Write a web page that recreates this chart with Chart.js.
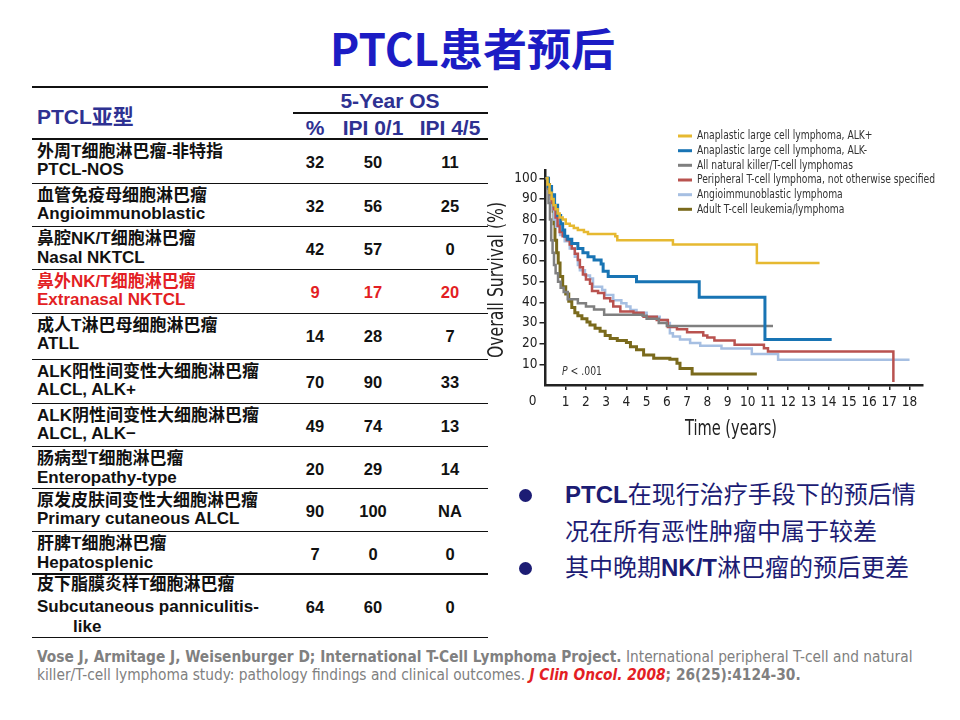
<!DOCTYPE html>
<html><head><meta charset="utf-8">
<script src="https://cdn.jsdelivr.net/npm/chart.js@4.4.1/dist/chart.umd.min.js"></script>
<style>
body{margin:0;width:960px;height:720px;background:#fff;position:relative;overflow:hidden;font-family:'Liberation Sans','Noto Sans CJK SC',sans-serif;}
.a{position:absolute;white-space:nowrap;}
#title{left:0;width:945px;top:20px;text-align:center;font-weight:bold;font-size:44px;font-family:'Noto Sans CJK SC',sans-serif;color:#1c1cc4;line-height:54px;}
.hl{position:absolute;background:#111;height:1.5px;}
.hdr{font-weight:bold;font-size:21px;color:#2e3192;line-height:24px;}
.cell{font-weight:bold;font-size:17px;line-height:20px;color:#111;}
.num{font-weight:bold;font-size:16.5px;line-height:20px;color:#111;text-align:center;width:60px;}
.red{color:#e31e24 !important;}
.bul{font-size:24px;line-height:30px;color:#1c1c74;}
.dot{position:absolute;width:13px;height:13px;border-radius:50%;background:#1c1c74;}
.cite{font-family:'DejaVu Sans Condensed','Liberation Sans Narrow',sans-serif;font-size:15.3px;color:#808080;line-height:18px;}
#chartBox{position:absolute;left:480px;top:120px;width:460px;height:330px;}
</style></head>
<body>
<div id="title" class="a">PTCL患者预后</div>
<div id="table"></div>
<div class="dot" style="left:519px;top:489px"></div>
<div class="a bul" style="left:565px;top:480px"><b>PTCL</b>在现行治疗手段下的预后情</div>
<div class="a bul" style="left:565px;top:517px">况在所有恶性肿瘤中属于较差</div>
<div class="dot" style="left:519px;top:562px"></div>
<div class="a bul" style="left:565px;top:553px">其中晚期<b>NK/T</b>淋巴瘤的预后更差</div>
<div class="a cite" style="left:37px;top:648px"><b>Vose J, Armitage J, Weisenburger D; International T-Cell Lymphoma Project.</b> International peripheral T-cell and natural</div>
<div class="a cite" style="left:37px;top:666px">killer/T-cell lymphoma study: pathology findings and clinical outcomes. <b><i style="color:#e31e24">J Clin Oncol. 2008</i>; 26(25):4124-30.</b></div>
<div id="chartBox"><canvas id="c" width="460" height="330"></canvas></div>
<script>
// ---- table data ----
const subtypeCN = ['外周T细胞淋巴瘤-非特指','血管免疫母细胞淋巴瘤','鼻腔NK/T细胞淋巴瘤','鼻外NK/T细胞淋巴瘤','成人T淋巴母细胞淋巴瘤','ALK阳性间变性大细胞淋巴瘤','ALK阴性间变性大细胞淋巴瘤','肠病型T细胞淋巴瘤','原发皮肤间变性大细胞淋巴瘤','肝脾T细胞淋巴瘤','皮下脂膜炎样T细胞淋巴瘤'];
const subtypeEN = ['PTCL-NOS','Angioimmunoblastic','Nasal NKTCL','Extranasal NKTCL','ATLL','ALCL, ALK+','ALCL, ALK−','Enteropathy-type','Primary cutaneous ALCL','Hepatosplenic','Subcutaneous panniculitis-'];
const os5Pct = ['32','32','42','9','14','70','49','20','90','7','64'];
const ipiLow = ['50','56','57','17','28','90','74','29','100','0','60'];
const ipiHigh = ['11','25','0','20','7','33','13','14','NA','0','0'];
const highlightRow = 3;

// ---- survival curves (years, % surviving) ----
const alkPosTime = [0,0.1,0.2,0.3,0.4,0.5,0.6,0.7,0.85,1.0,1.2,1.4,1.6,1.9,2.1,3.45,3.55,6.3,10.45,13.55];
const alkPosSurv = [100,97,93,90,87,85,83,81,80,78,77,76,75,74,73,72,70,68,59,59];
const alkNegTime = [0,0.15,0.3,0.45,0.6,0.75,0.85,0.95,1.1,1.3,1.6,1.85,2.1,2.4,2.75,2.85,3.1,4.5,7.6,10.85,14.15];
const alkNegSurv = [100,96,92,87,82,78,75,72,70.5,68.5,66,64,62,60.5,58.5,55,52.5,50,42.5,22,22];
const nkTime = [0,0.08,0.15,0.22,0.28,0.35,0.42,0.5,0.62,0.75,0.9,1.1,1.6,2.0,2.4,2.9,4.8,5.0,5.6,6.0,11.25];
const nkSurv = [100,95,88,80,70,64,58,54,50,47,45,41.5,39.5,38,36.5,34,33.5,32,30,28.5,28.5];
const ptclTime = [0,0.1,0.2,0.3,0.4,0.5,0.6,0.7,0.85,1.05,1.2,1.3,1.45,1.6,1.7,1.85,2.0,2.2,2.3,2.6,2.9,3.2,3.35,3.7,4.35,4.85,5.5,6.05,6.5,7.0,7.8,8.0,8.35,9.35,10.8,11.0,17.2,17.2];
const ptclSurv = [100,96,92,88,85,81,77,74,72,70,68,66,63.5,60.5,57,53.5,51,49,45.5,44.5,42,40.5,38,35.5,35,33,31.5,28,27,25.5,24,23,21.5,19.5,17.8,16.2,16.2,1.5];
const aitlTime = [0,0.1,0.2,0.3,0.42,0.52,0.72,0.95,1.2,1.45,1.6,1.7,1.95,2.2,2.35,2.8,2.95,3.35,3.75,4.0,4.2,4.5,5.0,5.65,6.0,6.15,6.3,6.65,7.15,7.65,8.7,10.2,11.5,18.0];
const aitlSurv = [100,95,90,85,80,76.5,72.5,69.5,66,62,58,55.5,53,51.5,47.5,46,43.5,41,39.5,38,36.3,35,33,31.5,30,25,23.5,22,20.3,19,17.7,15,12.2,12.2];
const atllTime = [0,0.1,0.2,0.3,0.38,0.42,0.47,0.55,0.63,0.72,0.85,1.0,1.15,1.3,1.45,1.6,1.8,2.05,2.2,2.45,2.7,2.95,3.2,3.55,4.0,4.2,4.5,4.85,5.35,6.15,6.5,6.65,7.25,10.45];
const atllSurv = [100,97,94,90,84,78,70,64,59,52.5,47.5,44,40.5,37.5,35,33.5,32,30.5,29,27.5,26,24,22.5,21.5,20.5,18.5,17,14.5,13,12.5,10.5,8,5.3,5.3];

const seriesLabels = ['Anaplastic large cell lymphoma, ALK+','Anaplastic large cell lymphoma, ALK-','All natural killer/T-cell lymphomas','Peripheral T-cell lymphoma, not otherwise specified','Angioimmunoblastic lymphoma','Adult T-cell leukemia/lymphoma'];
const xTickValues = [1,2,3,4,5,6,7,8,9,10,11,12,13,14,15,16,17,18];
const yTickValues = [10,20,30,40,50,60,70,80,90,100];
const xTitle = 'Time (years)';
const yTitle = 'Overall Survival (%)';

// ---- build table ----
(function(){
  const T = document.getElementById('table');
  const add = (html, cls, style) => { const d=document.createElement('div'); d.className=cls; d.style.cssText=style; d.innerHTML=html; T.appendChild(d); return d; };
  const line = (x1,x2,y) => add('', 'hl', `left:${x1}px;width:${x2-x1}px;top:${y-0.75}px`);
  line(32,488,87); line(293,488,113);
  add('PTCL亚型','a hdr',`left:37px;top:${117-12}px`);
  add('5-Year OS','a hdr',`left:330px;width:120px;text-align:center;top:${101-12}px`);
  add('%','a hdr',`left:285px;width:60px;text-align:center;top:${128-12}px`);
  add('IPI 0/1','a hdr',`left:328px;width:90px;text-align:center;top:${128-12}px`);
  add('IPI 4/5','a hdr',`left:405px;width:90px;text-align:center;top:${128-12}px`);
  const rowTops = [139,183.3,226.7,269.3,313.3,359.3,403.3,446.7,488.3,531.7,574];
  const tableBottom = 637.3;
  const colX = [315,373,450];
  rowTops.forEach((t,i)=>{
    line(32,488,t);
    const red = i===highlightRow ? ' red' : '';
    const last = i===rowTops.length-1;
    const cnY = last ? t+11 : t+12.7;
    const enY = last ? t+32.7 : t+31;
    add(subtypeCN[i],'a cell'+red,`left:37px;top:${cnY-10}px`);
    add(subtypeEN[i],'a cell'+red,`left:37px;top:${enY-10}px`);
    if(last) add('like','a cell',`left:73px;top:${t+53.3-10}px`);
    const ny = last ? enY : t+22.5;
    [os5Pct[i],ipiLow[i],ipiHigh[i]].forEach((v,k)=>add(v,'a num'+red,`left:${colX[k]-30}px;top:${ny-10}px`));
  });
  line(32,488,tableBottom);
})();

// ---- chart ----
const NARROW = "'DejaVu Sans Condensed','Liberation Sans Narrow',sans-serif";
const colors = ['#e6b931','#1874b4','#7f7f7f','#b9524f','#a6bfe2','#7a6a1c'];
const widths = [2.5,3,2.5,2.5,2.5,3];
const times = [alkPosTime,alkNegTime,nkTime,ptclTime,aitlTime,atllTime];
const survs = [alkPosSurv,alkNegSurv,nkSurv,ptclSurv,aitlSurv,atllSurv];
const datasets = seriesLabels.map((lab,i)=>({
  label:lab,
  data: times[i].map((t,k)=>({x:t,y:survs[i][k]})),
  borderColor:colors[i], backgroundColor:colors[i], borderWidth:widths[i],
  stepped:'before', pointRadius:0, fill:false
}));

// draw text horizontally condensed to a target width
function fitText(ctx, text, x, y, font, sx, rot){
  ctx.save(); ctx.font = font; ctx.translate(x,y); if(rot) ctx.rotate(rot); ctx.scale(sx,1);
  ctx.fillText(text,0,0); ctx.restore();
}
const extras = {
  id:'extras',
  afterDraw(chart){
    const ctx = chart.ctx;
    ctx.save();
    ctx.textBaseline = 'middle';
    // legend
    const ys = [16,30.7,45.3,60,74.7,89.3];
    const lf = `12.5px ${NARROW}`;
    ctx.font = lf;
    const longest = Math.max(...chart.data.datasets.map(d=>ctx.measureText(d.label).width));
    const ls = 238/longest;
    chart.data.datasets.forEach((ds,i)=>{
      ctx.strokeStyle = ds.borderColor; ctx.lineWidth = 3;
      ctx.beginPath(); ctx.moveTo(198,ys[i]); ctx.lineTo(212,ys[i]); ctx.stroke();
      ctx.fillStyle = '#333'; ctx.textAlign='left';
      fitText(ctx, ds.label, 217, ys[i], lf, ls);
    });
    // axis titles
    ctx.fillStyle = '#222'; ctx.textAlign='center';
    const tf = `21px ${NARROW}`;
    ctx.font = tf;
    fitText(ctx, xTitle, 251, 310, tf, 92/ctx.measureText(xTitle).width);
    ctx.font = tf;
    fitText(ctx, yTitle, 18, 160, tf, 156/ctx.measureText(yTitle).width, -Math.PI/2);
    // origin label
    ctx.font = `13.5px ${NARROW}`; ctx.textAlign='center';
    ctx.fillText('0', 52.7, 281);
    // p-value
    ctx.textAlign='left'; ctx.fillStyle='#333';
    ctx.font = `italic 12px ${NARROW}`;
    const wP = ctx.measureText('P').width;
    ctx.font = `12px ${NARROW}`;
    const wR = ctx.measureText(' < .001').width;
    const ps = 40/(wP+wR);
    fitText(ctx, 'P', 82, 251.7, `italic 12px ${NARROW}`, ps);
    fitText(ctx, ' < .001', 82+wP*ps, 251.7, `12px ${NARROW}`, ps);
    ctx.restore();
  }
};

new Chart(document.getElementById('c'),{
  type:'line',
  data:{datasets},
  plugins:[extras],
  options:{
    responsive:false, animation:false,
    layout:{padding:{top:50,right:17.3,left:0,bottom:0}},
    plugins:{legend:{display:false},tooltip:{enabled:false}},
    elements:{point:{radius:0},line:{tension:0,borderCapStyle:'butt',borderJoinStyle:'miter'}},
    scales:{
      x:{type:'linear',min:0,max:18.65,
        afterBuildTicks(s){ s.ticks = xTickValues.map(v=>({value:v})); },
        afterFit(s){ s.height = 65; },
        border:{display:true,color:'#222',width:2.5},
        grid:{drawOnChartArea:false,drawTicks:true,tickLength:5,color:'#222',lineWidth:1.5},
        ticks:{color:'#222',font:{family:NARROW,size:13.5},padding:4,maxRotation:0,autoSkip:false},
        title:{display:false}
      },
      y:{type:'linear',min:0,max:104,
        afterBuildTicks(s){ s.ticks = yTickValues.map(v=>({value:v})); },
        afterFit(s){ s.width = 65.5; },
        border:{display:true,color:'#222',width:2.5},
        grid:{drawOnChartArea:false,drawTicks:true,tickLength:6,color:'#222',lineWidth:1.5},
        ticks:{color:'#222',font:{family:NARROW,size:13.5},padding:2,autoSkip:false},
        title:{display:false}
      }
    }
  }
});
</script>
</body></html>
